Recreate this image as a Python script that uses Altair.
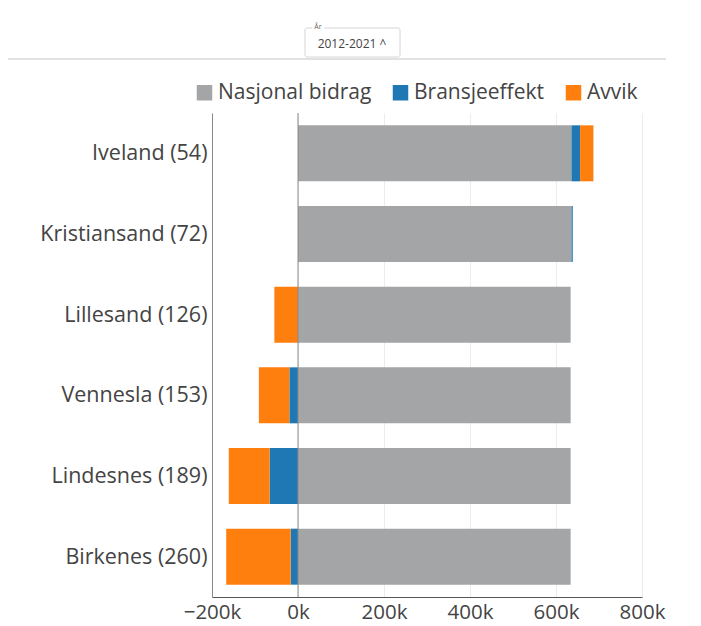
import altair as alt
import pandas as pd

kommuner = ["Iveland (54)", "Kristiansand (72)", "Lillesand (126)",
            "Vennesla (153)", "Lindesnes (189)", "Birkenes (260)"]
nasjonal = [636000, 636000, 634000, 634000, 634000, 634000]
bransje = [20000, 3000, 0, -20000, -66000, -17000]
avvik = [31000, 0, -55000, -71000, -95000, -150000]
serier = ["Nasjonal bidrag", "Bransjeeffekt", "Avvik"]
farger = ["#a4a5a7", "#1f77b4", "#ff7f0e"]
x_ticks = [-200000, 0, 200000, 400000, 600000, 800000]
periode = "2012-2021 ^"
velger_label = "År"

rows = []
for i, k in enumerate(kommuner):
    for j, (s, vals) in enumerate(zip(serier, [nasjonal, bransje, avvik])):
        rows.append({"Kommune": k, "Serie": s, "Verdi": vals[i], "orden": j})
df = pd.DataFrame(rows)

FONT = "Open Sans"

bars = alt.Chart(df).mark_bar(size=56).encode(
    y=alt.Y("Kommune:N", sort=kommuner, title=None,
            scale=alt.Scale(paddingInner=0.3, paddingOuter=0.15),
            axis=alt.Axis(labelFontSize=21.5, labelColor="#444", labelFont=FONT,
                          ticks=False, labelPadding=5, domainColor="#888",
                          grid=False, labelOffset=1)),
    x=alt.X("Verdi:Q", stack="zero", title=None,
            scale=alt.Scale(domain=[-200000, 800000], nice=False),
            axis=alt.Axis(values=x_ticks, labelExpr="format(datum.value/1000, 'd') + 'k'",
                          labelFontSize=20.5, labelColor="#444", labelFont=FONT,
                          ticks=False, labelPadding=5, domainColor="#555",
                          gridColor="#ececec", labelFlush=False)),
    color=alt.Color("Serie:N", scale=alt.Scale(domain=serier, range=farger),
                    sort=serier,
                    legend=alt.Legend(title=None, orient="none", direction="horizontal",
                                      legendX=-18, legendY=-31, symbolType="square",
                                      symbolSize=240, symbolStrokeWidth=0,
                                      labelFontSize=21, labelColor="#444", labelFont=FONT,
                                      labelOffset=3, columnPadding=18, padding=0,
                                      labelLimit=300)),
    order=alt.Order("orden:Q"),
)

zero = alt.Chart(pd.DataFrame({"v": [0]})).mark_rule(color="#8a8a8a", strokeWidth=1).encode(
    x="v:Q"
)

one = pd.DataFrame({"t": [periode], "l": [velger_label]})
sep = alt.Chart(one).mark_rule(color="#e2e2e2", strokeWidth=2).encode(
    x=alt.value(-204), x2=alt.value(454), y=alt.value(-54)
)
box = alt.Chart(one).mark_rect(fill="white", stroke="#d6d6d6", strokeWidth=1, cornerRadius=2).encode(
    x=alt.value(93), x2=alt.value(188), y=alt.value(-85), y2=alt.value(-56)
)
box_text = alt.Chart(one).mark_text(fontSize=12, color="#444", font=FONT).encode(
    text="t:N", x=alt.value(140), y=alt.value(-69)
)
lab_bg = alt.Chart(one).mark_rect(fill="white").encode(
    x=alt.value(100), x2=alt.value(112), y=alt.value(-89), y2=alt.value(-81)
)
lab = alt.Chart(one).mark_text(fontSize=7, color="#666", font=FONT).encode(
    text="l:N", x=alt.value(106), y=alt.value(-86)
)

chart = alt.layer(bars, zero, sep, box, lab_bg, lab, box_text).properties(
    width=430, height=484,
    autosize=alt.AutoSizeParams(type="none"),
    padding={"left": 204, "top": 105, "right": 40, "bottom": 30},
    background="white",
).configure_view(stroke=None)

chart.save("out.html", embed_options={"renderer": "svg", "actions": False})
